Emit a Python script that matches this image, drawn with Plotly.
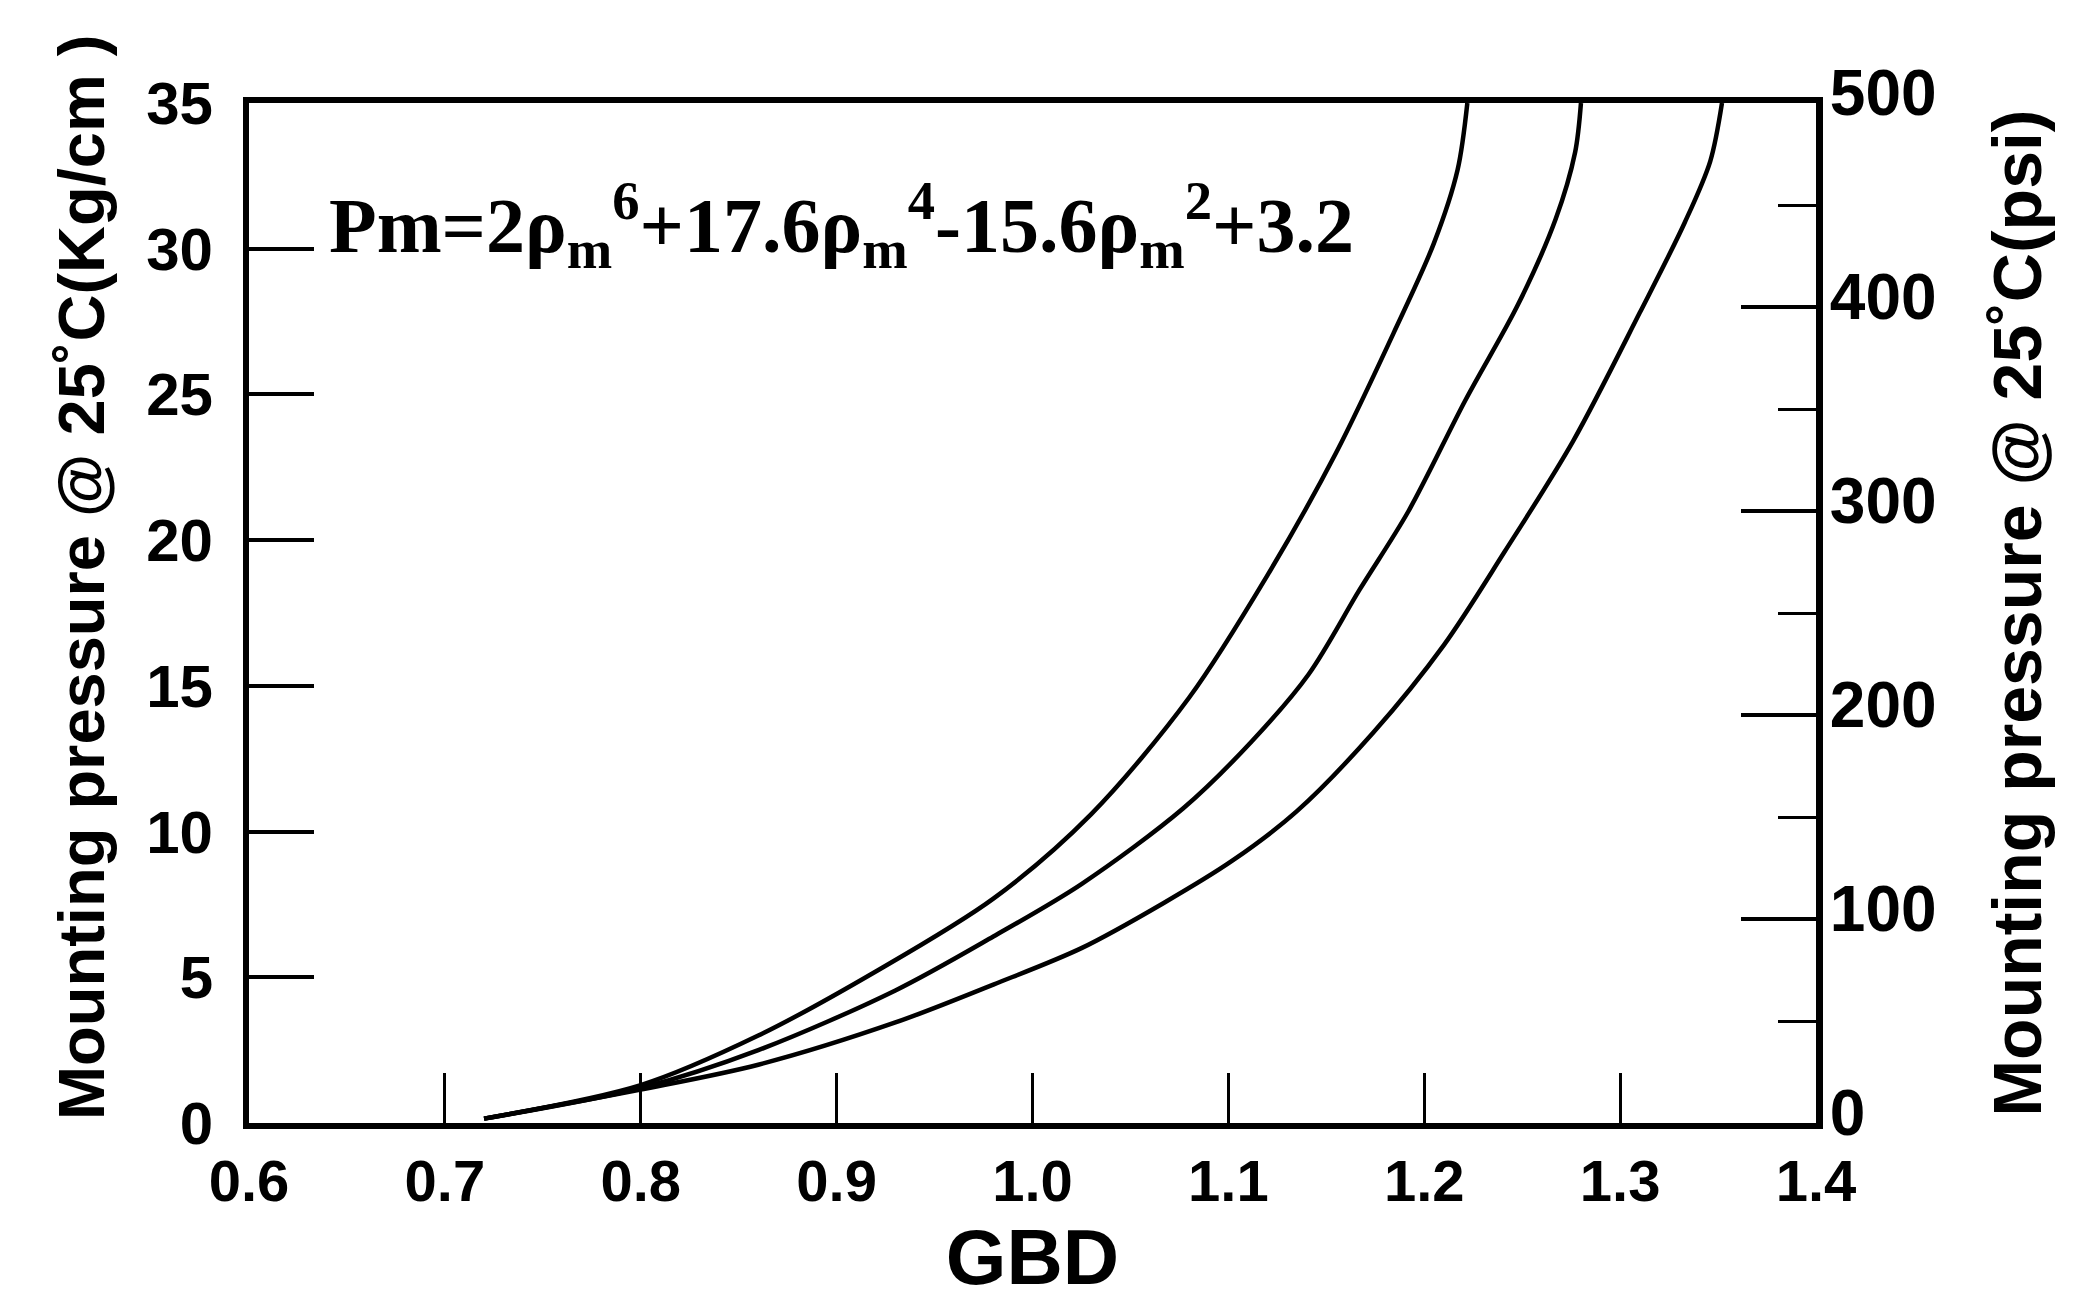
import plotly.graph_objects as go

# GBD (x) and mounting pressure in kg/cm^2 (y)
gbd_a = [0.72, 0.80, 0.86, 0.92, 0.98, 1.03, 1.08, 1.12, 1.155, 1.185, 1.205, 1.217, 1.222]
p_a = [0.15, 1.3, 3.0, 5.2, 7.7, 10.6, 14.6, 18.8, 23.0, 27.2, 30.2, 32.7, 35.0]

gbd_b = [0.72, 0.80, 0.86, 0.93, 0.98, 1.025, 1.077, 1.112, 1.141, 1.167, 1.192,
         1.221, 1.248, 1.267, 1.277, 1.280]
p_b = [0.15, 1.2, 2.5, 4.55, 6.4, 8.2, 10.8, 13.1, 15.4, 18.3, 21.0,
       24.8, 28.1, 31.0, 33.3, 35.0]

gbd_c = [0.72, 0.80, 0.86, 0.93, 0.98, 1.025, 1.067, 1.102, 1.135, 1.174, 1.21,
         1.241, 1.276, 1.31, 1.333, 1.346, 1.352]
p_c = [0.15, 1.15, 2.0, 3.45, 4.75, 6.0, 7.55, 9.0, 10.7, 13.4, 16.4,
       19.6, 23.4, 27.8, 30.9, 33.0, 35.0]

x_ticks = [0.6, 0.7, 0.8, 0.9, 1.0, 1.1, 1.2, 1.3, 1.4]
x_tick_labels = ["0.6", "0.7", "0.8", "0.9", "1.0", "1.1", "1.2", "1.3", "1.4"]
y_ticks = [0, 5, 10, 15, 20, 25, 30, 35]
psi_ticks = [0, 100, 200, 300, 400, 500]

left_title = "Mounting pressure @ 25˚C(Kg/cm )"
right_title = "Mounting pressure @ 25˚C(psi)"
equation = ("Pm=2ρ<sub>m</sub><sup>6</sup>+17.6ρ<sub>m</sub><sup>4</sup>"
            "-15.6ρ<sub>m</sub><sup>2</sup>+3.2")

SANS = "Liberation Sans, Arial, sans-serif"
SERIF = "Liberation Serif, Times New Roman, serif"

fig = go.Figure()
for gx, gy in [(gbd_a, p_a), (gbd_b, p_b), (gbd_c, p_c)]:
    fig.add_trace(go.Scatter(x=gx, y=gy, mode="lines",
                             line=dict(color="black", width=4.5, shape="spline", smoothing=0.9),
                             showlegend=False, hoverinfo="x+y"))
# invisible trace to activate the right-hand psi axis
fig.add_trace(go.Scatter(x=[0.6], y=[0], yaxis="y2", mode="markers",
                         marker=dict(opacity=0), showlegend=False, hoverinfo="skip"))

fig.update_layout(
    width=2084, height=1305,
    margin=dict(l=241, r=276, t=95, b=190, autoexpand=False),
    paper_bgcolor="white", plot_bgcolor="white",
    font=dict(family=SANS, color="black"),
    xaxis=dict(range=[0.6, 1.4], tickvals=x_ticks, ticktext=x_tick_labels,
               automargin=False,
               ticks="inside", ticklen=50, tickwidth=3, tickcolor="black",
               showline=True, linewidth=6, linecolor="black", mirror=True,
               showgrid=False, zeroline=False,
               tickfont=dict(size=58, family=SANS, weight="bold"),
               ticklabelstandoff=2,
               title=dict(text="GBD", font=dict(size=78, family=SANS, weight="bold"),
                          standoff=18)),
    yaxis=dict(range=[0, 35], tickvals=y_ticks, automargin=False,
               ticks="inside", ticklen=65, tickwidth=4, tickcolor="black",
               showline=True, linewidth=6, linecolor="black",
               showgrid=False, zeroline=False,
               tickfont=dict(size=60, family=SANS, weight="bold"),
               ticklabelstandoff=18),
    yaxis2=dict(range=[0, 500], tickvals=psi_ticks, overlaying="y", side="right",
                automargin=False,
                ticks="inside", ticklen=75, tickwidth=4, tickcolor="black",
                minor=dict(ticks="inside", ticklen=38, tickwidth=3, dtick=50,
                           tickcolor="black", showgrid=False),
                showline=True, linewidth=7, linecolor="black",
                showgrid=False, zeroline=False,
                tickfont=dict(size=64, family=SANS, weight="bold"),
                ticklabelstandoff=-6, ticklabelshift=-10,
                title=dict(text=right_title,
                           font=dict(size=68, family=SANS, weight="bold"), standoff=60)),
    annotations=[
        dict(text=equation, x=0.64, y=30.8, xref="x", yref="y",
             xanchor="left", yanchor="middle", showarrow=False,
             font=dict(size=78, family=SERIF, color="black", weight="bold")),
        dict(text=left_title, x=-0.107, y=0.5346, xref="paper", yref="paper",
             xanchor="center", yanchor="middle", textangle=-90, showarrow=False,
             font=dict(size=65, family=SANS, color="black", weight="bold")),
    ],
)

fig.write_html("out.html")
